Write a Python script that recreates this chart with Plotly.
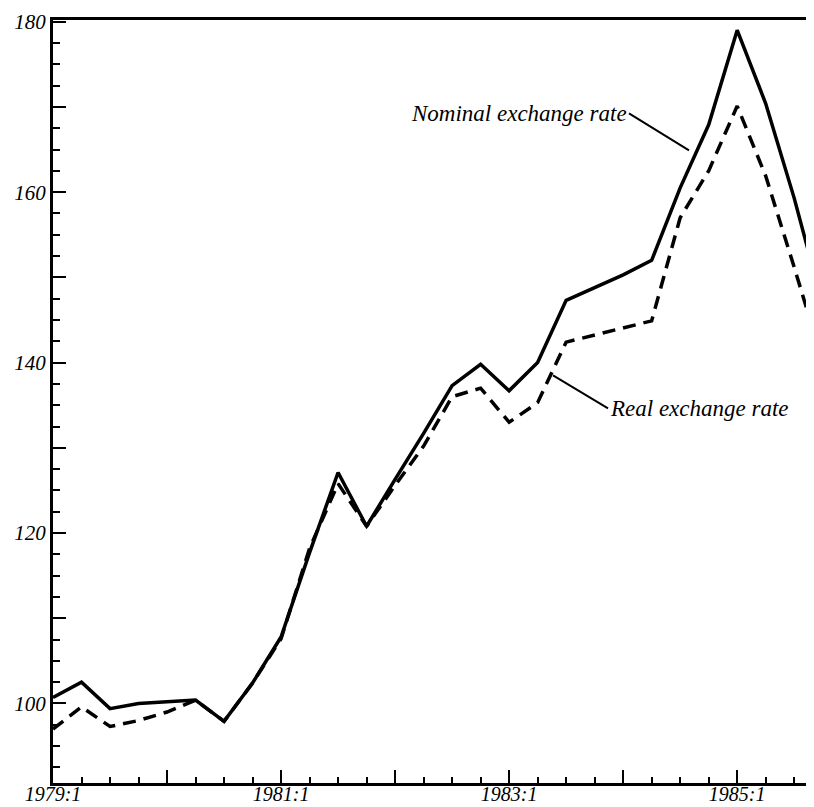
import plotly.graph_objects as go

quarters = [f"{y}:{q}" for y in range(1979, 1986) for q in range(1, 5)]

nominal = [100.7, 102.5, 99.4, 100.0, 100.2, 100.4, 97.9, 102.4,
           107.8, 117.7, 127.1, 120.8, 126.3, 131.7, 137.3, 139.8,
           136.7, 140.0, 147.3, 148.8, 150.3, 152.0, 160.5, 167.9,
           179.0, 170.4, 159.3, 146.8]

real = [97.0, 99.6, 97.3, 98.0, 99.0, 100.4, 97.9, 102.4,
        107.6, 118.2, 125.8, 120.8, 125.6, 130.2, 136.0, 137.0,
        133.0, 135.3, 142.4, 143.2, 144.0, 144.9, 157.0, 162.5,
        170.1, 161.9, 151.2, 140.1]

x_labels = ["1979:1", "", "1981:1", "", "1983:1", "", "1985:1"]
y_ticks = [100, 110, 120, 130, 140, 150, 160, 170, 180]
y_labels = ["100", "", "120", "", "140", "", "160", "", "180"]

xi = list(range(len(quarters)))
year_ticks = [i for i, q in enumerate(quarters) if q.endswith(":1")]

serif = "Liberation Serif"

fig = go.Figure()
fig.add_trace(go.Scatter(x=xi, y=real, mode="lines", name="Real exchange rate",
                         line=dict(color="black", width=3.5, dash="13px,8px"),
                         hoverinfo="skip"))
fig.add_trace(go.Scatter(x=xi, y=nominal, mode="lines", name="Nominal exchange rate",
                         line=dict(color="black", width=3.5),
                         hoverinfo="skip"))

fig.add_annotation(x=22.31, y=164.9, xref="x", yref="y",
                   text="Nominal exchange rate", showarrow=True,
                   arrowhead=0, arrowwidth=2, arrowcolor="black", standoff=0,
                   ax=-60, ay=-37, xanchor="right", yanchor="middle",
                   font=dict(family=serif, size=23, color="black", style="italic"))
fig.add_annotation(x=17.54, y=138.5, xref="x", yref="y",
                   text="Real exchange rate", showarrow=True,
                   arrowhead=0, arrowwidth=2, arrowcolor="black", standoff=0,
                   ax=55, ay=33, xanchor="left", yanchor="middle",
                   font=dict(family=serif, size=23, color="black", style="italic"))

fig.update_layout(
    width=814, height=807,
    margin=dict(l=45, r=2, t=7, b=32),
    paper_bgcolor="white", plot_bgcolor="white",
    showlegend=False,
    font=dict(family=serif, color="black"),
)
fig.update_xaxes(
    range=[0, 26.8],
    tickvals=year_ticks, ticktext=x_labels,
    ticks="inside", ticklen=13, tickwidth=2, tickcolor="black",
    minor=dict(dtick=1, tick0=0, ticks="inside", ticklen=6, tickwidth=2, tickcolor="black"),
    showline=True, linewidth=3, linecolor="black", mirror=True,
    showgrid=False, zeroline=False,
    ticklabeloverflow="allow", ticklabelstandoff=-9,
    tickfont=dict(family=serif, size=20, color="black", style="italic"),
)
fig.update_yaxes(
    range=[90.67, 180.2],
    tickvals=y_ticks, ticktext=y_labels,
    ticks="inside", ticklen=13, tickwidth=2, tickcolor="black",
    minor=dict(dtick=2.5, tick0=90, ticks="inside", ticklen=7, tickwidth=2, tickcolor="black"),
    showline=True, linewidth=3, linecolor="black", mirror=True,
    showgrid=False, zeroline=False,
    ticklabeloverflow="allow",
    tickfont=dict(family=serif, size=21, color="black", style="italic"),
)

fig.write_html("out.html")
